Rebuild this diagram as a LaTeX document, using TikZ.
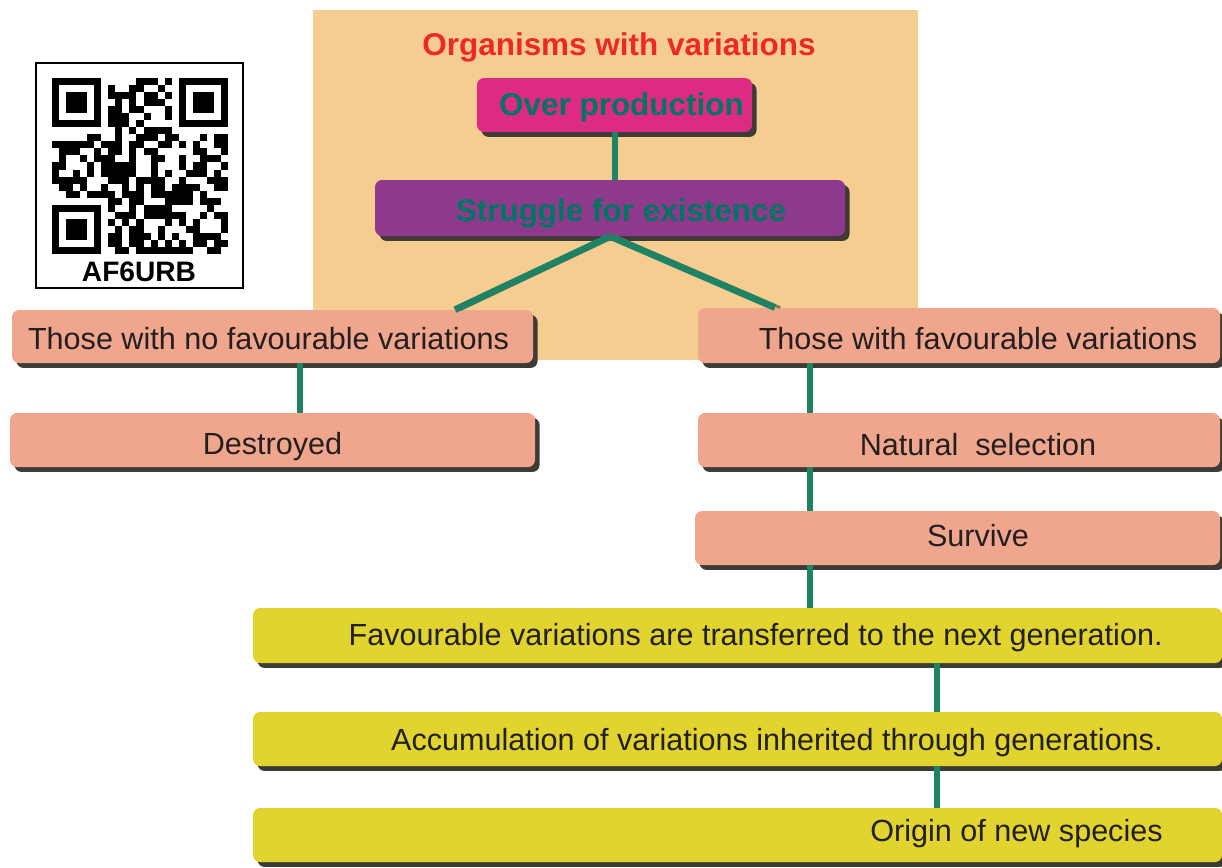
\documentclass[tikz,border=0pt]{standalone}
\usepackage{fontspec}
\setmainfont{Liberation Sans}
\usetikzlibrary{positioning, fit, shadows, calc}

\definecolor{tanbg}{RGB}{246,205,145}
\definecolor{magentab}{RGB}{221,42,131}
\definecolor{purpleb}{RGB}{142,58,140}
\definecolor{tealtext}{RGB}{0,118,98}
\definecolor{linkgreen}{RGB}{30,130,100}
\definecolor{salmon}{RGB}{240,166,141}
\definecolor{yellowb}{RGB}{226,212,47}
\definecolor{titlered}{RGB}{238,40,36}
\definecolor{shadowgray}{RGB}{62,58,54}
\definecolor{textdark}{RGB}{35,31,32}

\tikzset{
  box/.style={rounded corners=4pt, inner sep=0pt,
    drop shadow={shadow xshift=2.6pt, shadow yshift=-2.8pt, fill=shadowgray, opacity=1}},
  salmonbox/.style={box, fill=salmon},
  yellowbox/.style={box, fill=yellowb},
  txt/.style={inner sep=0pt, text height=12.5pt, text depth=0pt, text=textdark,
    font=\fontsize{17.4}{20}\selectfont},
  headtxt/.style={inner sep=0pt, text height=12.8pt, text depth=0pt, text=tealtext,
    font=\fontsize{17.9}{21}\selectfont\bfseries},
  link/.style={draw=linkgreen, line width=3.8pt},
  linkshadow/.style={draw=shadowgray!60!tanbg, line width=1.6pt}
}

\begin{document}
\begin{tikzpicture}[x=0.02cm, y=-0.02cm]
  \useasboundingbox (0,0) rectangle (1222,867);
  \fill[white] (0,0) rectangle (1222,867);

  % Hintergrund oben
  \fill[tanbg] (313,10) rectangle (918,360);

  % QR-Code
  \node[draw=black, line width=1.2pt, inner sep=0pt, fit={(36,63) (243,288)}] (qr) {};
  \def\qrm{7.04}
  \pgfmathsetseed{23}
  \foreach \i in {0,...,24}{
    \foreach \j in {0,...,24}{
      \pgfmathtruncatemacro\infind{((\i<8)&&(\j<8))||((\i>16)&&(\j<8))||((\i<8)&&(\j>16))}
      \pgfmathtruncatemacro\qrbit{rnd<0.56}
      \ifnum\infind=0 \ifnum\qrbit=1
        \fill[black] (52+\i*\qrm, 78+\j*\qrm) rectangle ++(\qrm,\qrm);
      \fi\fi
    }
  }
  \foreach \fx/\fy in {0/0, 18/0, 0/18}{
    \fill[black] (52+\fx*\qrm, 78+\fy*\qrm) rectangle ++(7*\qrm, 7*\qrm);
    \fill[white] (52+\fx*\qrm+\qrm, 78+\fy*\qrm+\qrm) rectangle ++(5*\qrm, 5*\qrm);
    \fill[black] (52+\fx*\qrm+2*\qrm, 78+\fy*\qrm+2*\qrm) rectangle ++(3*\qrm, 3*\qrm);
  }
  \node[inner sep=0pt, font=\fontsize{16}{18}\selectfont\bfseries] (qrcode) at (139,272) {AF6URB};

  % Spalten fuer Verbinder und Text
  \coordinate (topstem) at (615,0);
  \coordinate (lfork) at (455,0);
  \coordinate (rfork) at (775,0);
  \coordinate (lstem) at (300,0);
  \coordinate (rstem) at (810,0);
  \coordinate (ystem) at (937,0);
  \coordinate (rcol) at (978,0);
  \coordinate (yend) at (1163,0);

  % Kaesten
  \node[box, fill=magentab, fit={(477,78) (752,132)}] (overprod) {};
  \node[box, fill=purpleb, fit={(375,180) (845,236)}] (struggle) {};
  \node[salmonbox, fit={(12,310) (533,363)}] (nofav) {};
  \node[salmonbox, fit={(10,413) (535,467)}] (destroyed) {};
  \node[salmonbox, fit={(698,308) (1220,363)}] (fav) {};
  \node[salmonbox, fit={(698,413) (1220,467)}] (natsel) {};
  \node[salmonbox, fit={(695,511) (1220,565)}] (survive) {};
  \node[yellowbox, fit={(253,608) (1222,663)}] (transfer) {};
  \node[yellowbox, fit={(253,712) (1222,766)}] (accum) {};
  \node[yellowbox, fit={(253,808) (1222,862)}] (origin) {};

  % Verbinder
  \draw[linkshadow] ([xshift=3pt]struggle.south) -- ([xshift=3pt]nofav.north -| lfork);
  \draw[linkshadow] ([xshift=3pt]struggle.south) -- ([xshift=3pt]fav.north -| rfork);
  \draw[link] (overprod.south -| topstem) -- (struggle.north -| topstem);
  \draw[link] (struggle.south) -- (nofav.north -| lfork);
  \draw[link] (struggle.south) -- (fav.north -| rfork);
  \draw[link] (nofav.south -| lstem) -- (destroyed.north -| lstem);
  \draw[link] (fav.south -| rstem) -- (natsel.north -| rstem);
  \draw[link] (natsel.south -| rstem) -- (survive.north -| rstem);
  \draw[link] (survive.south -| rstem) -- (transfer.north -| rstem);
  \draw[link] (transfer.south -| ystem) -- (accum.north -| ystem);
  \draw[link] (accum.south -| ystem) -- (origin.north -| ystem);

  % Texte
  \node[inner sep=0pt, text height=12.8pt, text depth=0pt, text=titlered,
    font=\fontsize{17.9}{21}\selectfont\bfseries] (title) at (619,44) {Organisms with variations};
  \node[headtxt] (overprodtxt) at ($(overprod.center)+(7,-1)$) {Over production};
  \node[headtxt] (struggletxt) at ($(struggle.center)+(11,2.5)$) {Struggle for existence};
  \node[txt] (nofavtxt) at ($(nofav.center)+(-4,2.5)$) {Those with no favourable variations};
  \node[txt] (destroyedtxt) at ($(destroyed.center)+(0,4)$) {Destroyed};
  \node[txt] (favtxt) at ($(fav.center -| rcol)+(0,3)$) {Those with favourable variations};
  \node[txt] (natseltxt) at ($(natsel.center -| rcol)+(0,4.5)$) {Natural\ \ selection};
  \node[txt] (survivetxt) at ($(survive.center -| rcol)+(0,-2.5)$) {Survive};
  \node[txt, anchor=east] (transfertxt) at ($(transfer.center -| yend)+(0,-1.5)$) {Favourable variations are transferred to the next generation.};
  \node[txt, anchor=east] (accumtxt) at ($(accum.center -| yend)+(0,0.5)$) {Accumulation of variations inherited through generations.};
  \node[txt, anchor=east] (origintxt) at ($(origin.center -| yend)+(0,-5)$) {Origin of new species};
\end{tikzpicture}
\end{document}
